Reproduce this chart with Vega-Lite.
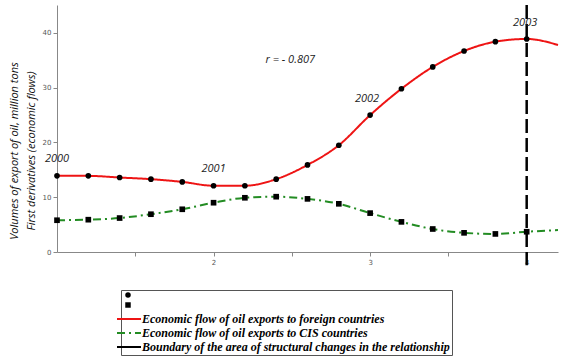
{
  "$schema": "https://vega.github.io/schema/vega-lite/v6.json",
  "width": 501,
  "height": 247,
  "autosize": {"type": "none"},
  "padding": {"left": 57, "top": 5, "right": 6, "bottom": 108},
  "background": "white",
  "config": {
    "view": {"stroke": null},
    "axis": {
      "grid": false,
      "domainColor": "#888888",
      "tickColor": "#888888",
      "labelColor": "#555555",
      "labelFont": "DejaVu Sans",
      "labelFontSize": 7,
      "tickSize": 4,
      "labelPadding": 2
    }
  },
  "datasets": {
    "curves": [
      {"x": 1.0, "y": 13.9, "series": "Economic flow of oil exports to foreign countries"},
      {"x": 1.2, "y": 13.9, "series": "Economic flow of oil exports to foreign countries"},
      {"x": 1.4, "y": 13.6, "series": "Economic flow of oil exports to foreign countries"},
      {"x": 1.6, "y": 13.3, "series": "Economic flow of oil exports to foreign countries"},
      {"x": 1.8, "y": 12.8, "series": "Economic flow of oil exports to foreign countries"},
      {"x": 2.0, "y": 12.1, "series": "Economic flow of oil exports to foreign countries"},
      {"x": 2.2, "y": 12.1, "series": "Economic flow of oil exports to foreign countries"},
      {"x": 2.4, "y": 13.3, "series": "Economic flow of oil exports to foreign countries"},
      {"x": 2.6, "y": 15.9, "series": "Economic flow of oil exports to foreign countries"},
      {"x": 2.8, "y": 19.5, "series": "Economic flow of oil exports to foreign countries"},
      {"x": 3.0, "y": 25.0, "series": "Economic flow of oil exports to foreign countries"},
      {"x": 3.2, "y": 29.8, "series": "Economic flow of oil exports to foreign countries"},
      {"x": 3.4, "y": 33.8, "series": "Economic flow of oil exports to foreign countries"},
      {"x": 3.6, "y": 36.7, "series": "Economic flow of oil exports to foreign countries"},
      {"x": 3.8, "y": 38.4, "series": "Economic flow of oil exports to foreign countries"},
      {"x": 4.0, "y": 38.9, "series": "Economic flow of oil exports to foreign countries"},
      {"x": 4.2, "y": 37.8, "series": "Economic flow of oil exports to foreign countries"},
      {"x": 1.0, "y": 5.8, "series": "Economic flow of oil exports to CIS countries"},
      {"x": 1.2, "y": 5.9, "series": "Economic flow of oil exports to CIS countries"},
      {"x": 1.4, "y": 6.2, "series": "Economic flow of oil exports to CIS countries"},
      {"x": 1.6, "y": 6.9, "series": "Economic flow of oil exports to CIS countries"},
      {"x": 1.8, "y": 7.8, "series": "Economic flow of oil exports to CIS countries"},
      {"x": 2.0, "y": 9.0, "series": "Economic flow of oil exports to CIS countries"},
      {"x": 2.2, "y": 9.9, "series": "Economic flow of oil exports to CIS countries"},
      {"x": 2.4, "y": 10.1, "series": "Economic flow of oil exports to CIS countries"},
      {"x": 2.6, "y": 9.7, "series": "Economic flow of oil exports to CIS countries"},
      {"x": 2.8, "y": 8.8, "series": "Economic flow of oil exports to CIS countries"},
      {"x": 3.0, "y": 7.1, "series": "Economic flow of oil exports to CIS countries"},
      {"x": 3.2, "y": 5.5, "series": "Economic flow of oil exports to CIS countries"},
      {"x": 3.4, "y": 4.2, "series": "Economic flow of oil exports to CIS countries"},
      {"x": 3.6, "y": 3.5, "series": "Economic flow of oil exports to CIS countries"},
      {"x": 3.8, "y": 3.3, "series": "Economic flow of oil exports to CIS countries"},
      {"x": 4.0, "y": 3.7, "series": "Economic flow of oil exports to CIS countries"},
      {"x": 4.2, "y": 4.0, "series": "Economic flow of oil exports to CIS countries"}
    ],
    "notes": [
      {"x": 1.0, "y": 17.0, "t": "2000"},
      {"x": 2.0, "y": 15.2, "t": "2001"},
      {"x": 2.98, "y": 28.0, "t": "2002"},
      {"x": 3.99, "y": 41.8, "t": "2003"},
      {"x": 2.49, "y": 35.0, "t": "r = - 0.807"}
    ],
    "boundary": [
      {"x": 4.0, "ytop": 45.1, "ybot": -2.4}
    ]
  },
  "encoding": {
    "x": {
      "field": "x",
      "type": "quantitative",
      "scale": {"domain": [1, 4.2], "nice": false, "zero": false},
      "axis": {
        "title": null,
        "values": [1.5, 2, 2.5, 3, 3.5, 4],
        "labelExpr": "datum.value % 1 == 0 ? format(datum.value, 'd') : ''"
      }
    },
    "y": {
      "field": "y",
      "type": "quantitative",
      "scale": {"domain": [0, 45.1], "nice": false},
      "axis": {
        "values": [0, 10, 20, 30, 40],
        "title": ["Volumes of export of oil, million tons", "First derivatives (economic flows)"],
        "titleFont": "Open Sans",
        "titleFontStyle": "italic",
        "titleFontWeight": "normal",
        "titleFontSize": 11,
        "titleColor": "#111111",
        "titleX": -49,
        "titleY": 145.5,
        "titleAlign": "center",
        "titleBaseline": "top",
        "titleLineHeight": 17
      }
    }
  },
  "layer": [
    {
      "data": {"name": "curves"},
      "mark": {"type": "line", "interpolate": "monotone", "strokeWidth": 2},
      "encoding": {
        "color": {
          "field": "series",
          "type": "nominal",
          "scale": {
            "domain": ["Economic flow of oil exports to foreign countries", "Economic flow of oil exports to CIS countries", "Boundary of the area of structural changes in the relationship"],
            "range": ["#ee1414", "#238c23", "black"]
          },
          "legend": {
            "orient": "none",
            "legendX": 64,
            "legendY": 285,
            "title": " ",
            "titleFontSize": 17,
            "titlePadding": 4,
            "direction": "vertical",
            "symbolType": "M-4,0H4",
            "symbolSize": 36,
            "symbolStrokeWidth": 2,
            "labelFont": "Liberation Serif",
            "labelFontSize": 12,
            "labelFontWeight": "bold",
            "labelFontStyle": "italic",
            "labelColor": "black",
            "labelOffset": 7,
            "labelLimit": 400,
            "strokeColor": "#555555",
            "padding": 2,
            "rowPadding": 2
          }
        },
        "strokeDash": {
          "field": "series",
          "type": "nominal",
          "scale": {
            "domain": ["Economic flow of oil exports to foreign countries", "Economic flow of oil exports to CIS countries", "Boundary of the area of structural changes in the relationship"],
            "range": [[1, 0], [8, 4, 2, 4], [1, 0]]
          }
        }
      }
    },
    {
      "data": {"name": "curves"},
      "transform": [{"filter": "datum.x <= 4.01"}],
      "mark": {"type": "point", "filled": true, "color": "black", "size": 32, "opacity": 1},
      "encoding": {
        "shape": {
          "field": "series",
          "type": "nominal",
          "scale": {
            "domain": ["Economic flow of oil exports to foreign countries", "Economic flow of oil exports to CIS countries"],
            "range": ["circle", "square"]
          },
          "legend": {
            "orient": "none",
            "legendX": 68,
            "legendY": 287,
            "title": null,
            "labelExpr": "''",
            "labelFontSize": 1,
            "symbolSize": 30,
            "symbolFillColor": "black",
            "symbolStrokeWidth": 0,
            "padding": 0,
            "rowPadding": 4
          }
        }
      }
    },
    {
      "data": {"name": "boundary"},
      "mark": {"type": "rule", "color": "black", "strokeWidth": 2.5, "strokeDash": [14, 5], "clip": false},
      "encoding": {
        "x": {"field": "x", "type": "quantitative"},
        "y": {"field": "ytop", "type": "quantitative"},
        "y2": {"field": "ybot"}
      }
    },
    {
      "data": {"name": "notes"},
      "mark": {"type": "text", "font": "Open Sans", "fontStyle": "italic", "fontSize": 11, "color": "#222222", "align": "center", "baseline": "middle"},
      "encoding": {
        "text": {"field": "t", "type": "nominal"}
      }
    }
  ]
}
